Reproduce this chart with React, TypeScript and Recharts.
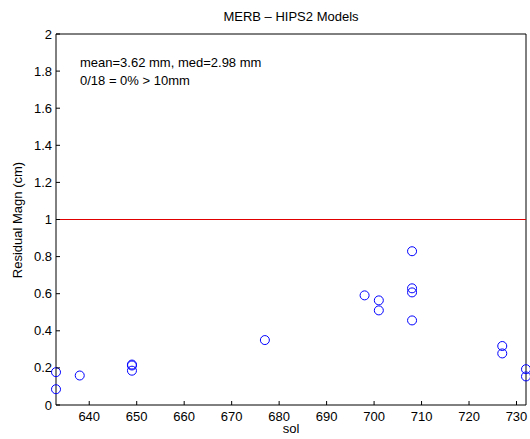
import { ScatterChart, Scatter, XAxis, YAxis } from "recharts";

const sols = [633, 633, 638, 649, 649, 649, 677, 698, 701, 701, 708, 708, 708, 708, 727, 727, 732, 732];
const residuals = [0.177, 0.085, 0.159, 0.213, 0.218, 0.185, 0.35, 0.591, 0.564, 0.51, 0.829, 0.629, 0.607, 0.456, 0.318, 0.278, 0.193, 0.154];
const xTicks = [640, 650, 660, 670, 680, 690, 700, 710, 720, 730];
const yTicks = [0, 0.2, 0.4, 0.6, 0.8, 1, 1.2, 1.4, 1.6, 1.8, 2];
const xRange = [633, 732];
const threshold = 1;

const points = sols.map((sol, i) => ({ sol, mag: residuals[i] }));
const thresholdLine = xRange.map((sol) => ({ sol, mag: threshold }));

const FONT = "'Liberation Sans', Arial, Helvetica, sans-serif";

// inward ticks, matlab style
function BottomTick({ x, y, payload }: any) {
    return (
        <g>
            <line x1={x} y1={y} x2={x} y2={y - 4} stroke="#000" />
            <text x={x} y={y + 16} textAnchor="middle" fontSize={13} fontFamily={FONT} fill="#000">
                {payload.value}
            </text>
        </g>
    );
}

function TopTick({ x, y }: any) {
    return <line x1={x} y1={y} x2={x} y2={y + 4} stroke="#000" />;
}

function LeftTick({ x, y, payload }: any) {
    return (
        <g>
            <line x1={x} y1={y} x2={x + 4} y2={y} stroke="#000" />
            <text x={x - 4} y={y + 4.5} textAnchor="end" fontSize={13} fontFamily={FONT} fill="#000">
                {payload.value}
            </text>
        </g>
    );
}

function RightTick({ x, y }: any) {
    return <line x1={x} y1={y} x2={x - 4} y2={y} stroke="#000" />;
}

function Ring({ cx, cy }: any) {
    return <circle cx={cx} cy={cy} r={4.5} fill="none" stroke="#0000ff" strokeWidth={1} />;
}

function NoMark() {
    return <g />;
}

export default function App() {
    return (
        <div style={{ position: "absolute", left: 0, top: 0, width: 530, height: 439, background: "#fff", fontFamily: FONT }}>
            <ScatterChart width={530} height={439} margin={{ top: 0, right: 0, bottom: 0, left: 0 }}>
                <XAxis
                    xAxisId="b"
                    dataKey="sol"
                    type="number"
                    domain={xRange}
                    ticks={xTicks}
                    height={34}
                    tickSize={0}
                    tickMargin={0}
                    tickLine={false}
                    axisLine={{ stroke: "#000" }}
                    tick={<BottomTick />}
                    interval={0}
                />
                <XAxis
                    xAxisId="t"
                    orientation="top"
                    type="number"
                    domain={xRange}
                    ticks={xTicks}
                    height={34}
                    tickSize={0}
                    tickMargin={0}
                    tickLine={false}
                    axisLine={{ stroke: "#000" }}
                    tick={<TopTick />}
                    interval={0}
                />
                <YAxis
                    yAxisId="l"
                    dataKey="mag"
                    type="number"
                    domain={[0, 2]}
                    ticks={yTicks}
                    width={56}
                    tickSize={0}
                    tickMargin={0}
                    tickLine={false}
                    axisLine={{ stroke: "#000" }}
                    tick={<LeftTick />}
                    interval={0}
                />
                <YAxis
                    yAxisId="r"
                    orientation="right"
                    type="number"
                    domain={[0, 2]}
                    ticks={yTicks}
                    width={4}
                    tickSize={0}
                    tickMargin={0}
                    tickLine={false}
                    axisLine={{ stroke: "#000" }}
                    tick={<RightTick />}
                    interval={0}
                />
                <Scatter
                    xAxisId="b"
                    yAxisId="l"
                    data={thresholdLine}
                    fill="#e00000"
                    line={{ stroke: "#e00000", strokeWidth: 1 }}
                    shape={<NoMark />}
                    isAnimationActive={false}
                />
                <Scatter xAxisId="b" yAxisId="l" data={points} shape={<Ring />} isAnimationActive={false} />
            </ScatterChart>
            <div style={{ position: "absolute", left: 56, width: 470, top: 9, textAlign: "center", fontSize: 13 }}>
                MERB – HIPS2 Models
            </div>
            <div style={{ position: "absolute", left: 80, top: 54, fontSize: 13, lineHeight: "17.5px", whiteSpace: "pre" }}>
                {"mean=3.62 mm, med=2.98 mm\n0/18 = 0% > 10mm"}
            </div>
            <div style={{ position: "absolute", left: 56, width: 470, top: 421, textAlign: "center", fontSize: 13 }}>
                sol
            </div>
            <div
                style={{
                    position: "absolute",
                    left: 17,
                    top: 220,
                    fontSize: 13,
                    whiteSpace: "nowrap",
                    transform: "translate(-50%, -50%) rotate(-90deg)",
                }}
            >
                Residual Magn (cm)
            </div>
        </div>
    );
}
